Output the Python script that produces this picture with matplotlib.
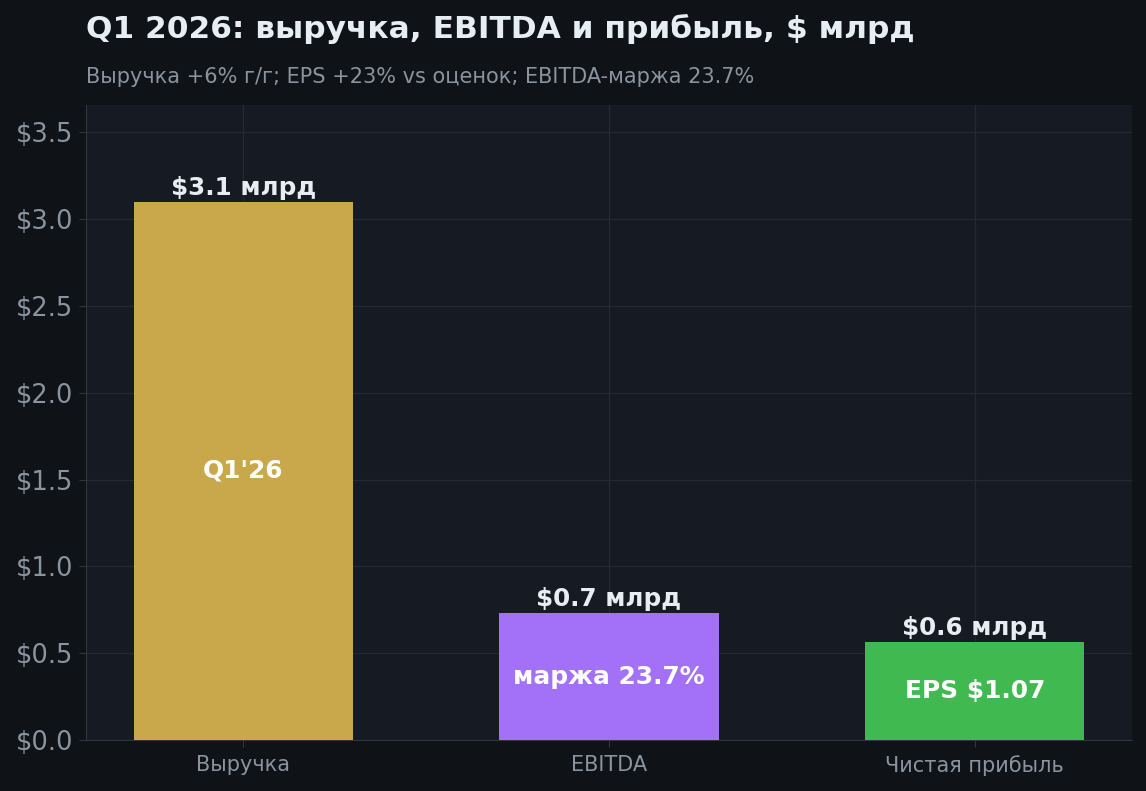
import matplotlib
matplotlib.use("Agg")
import matplotlib.pyplot as plt
from matplotlib.ticker import FuncFormatter

categories = ["Выручка", "EBITDA", "Чистая прибыль"]
values = [3.1, 0.73, 0.565]
top_labels = ["$3.1 млрд", "$0.7 млрд", "$0.6 млрд"]
inner_labels = ["Q1'26", "маржа 23.7%", "EPS $1.07"]
colors = ["#c9a84c", "#a371f7", "#3fb950"]

fig_bg = "#0f1217"
ax_bg = "#161a22"
text_c = "#e6edf3"
muted = "#8b949e"

fig = plt.figure(figsize=(11.46, 7.91), dpi=100, facecolor=fig_bg)
ax = fig.add_axes([86 / 1146, 1 - 740 / 791, (1132 - 86) / 1146, (740 - 105) / 791])
ax.set_facecolor(ax_bg)

x = range(len(categories))
bars = ax.bar(x, values, width=0.6, color=colors, zorder=3)

for b, top, inner in zip(bars, top_labels, inner_labels):
    cx = b.get_x() + b.get_width() / 2
    h = b.get_height()
    ax.text(cx, h + 0.012, top, ha="center", va="bottom", color=text_c,
            fontsize=17.7, fontweight="bold", zorder=4)
    ax.text(cx, h / 2, inner, ha="center", va="center", color="white",
            fontsize=17.9, fontweight="bold", zorder=4)

ax.set_ylim(0, 3.1 * 1.18)
ax.set_xticks(list(x))
ax.set_xticklabels(categories)
ax.yaxis.set_major_formatter(FuncFormatter(lambda v, p: f"${v:.1f}"))
ax.tick_params(axis="y", colors="#30363d", labelcolor=muted, labelsize=18.5, length=5, pad=4)
ax.tick_params(axis="x", colors="#30363d", labelcolor=muted, labelsize=15, length=5, pad=6)

ax.grid(True, color="#232833", linewidth=1, zorder=0)
for s in ["top", "right"]:
    ax.spines[s].set_visible(False)
for s in ["left", "bottom"]:
    ax.spines[s].set_color("#30363d")

fig.text(86 / 1146, 1 - 29 / 791, "Q1 2026: выручка, EBITDA и прибыль, $ млрд",
         color=text_c, fontsize=22.5, fontweight="bold", va="center", ha="left")
fig.text(86 / 1146, 1 - 77 / 791, "Выручка +6% г/г; EPS +23% vs оценок; EBITDA-маржа 23.7%",
         color=muted, fontsize=15, va="center", ha="left")

fig.savefig("out.png", dpi=100, facecolor=fig_bg)
